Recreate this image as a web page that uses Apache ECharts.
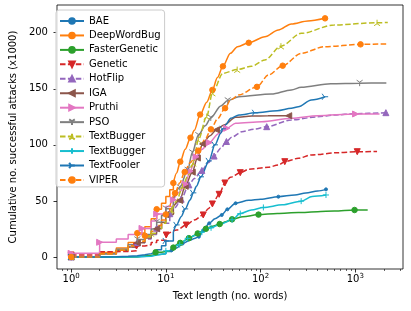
<!DOCTYPE html>
<html><head><meta charset="utf-8">
<script src="https://cdn.jsdelivr.net/npm/echarts@6/dist/echarts.min.js"></script>
<style>html,body{margin:0;padding:0;background:#fff}#c{width:411px;height:311px}</style>
</head><body><div id="c"></div>
<script>
// ---- data (x = text length in words, y = cumulative successful attacks in thousands) ----
const methods = ['BAE','DeepWordBug','FasterGenetic','Genetic','HotFlip','IGA','Pruthi','PSO','TextBugger','TextBugger','TextFooler','VIPER'];

const bae_x = [1,3,5,7,8,10,11.5,13,15,18,20,22.3,25,28.7,33,38.9,44.6,54.5,75,100,154,230,300,400,490];
const bae_y = [0,0.3,1,2,3,5,6,8,12,15,16.5,18.1,24,30,34,37.5,42.5,47.9,50.5,51.5,53.8,55.3,57,58.8,60.3];

const dwb_x = [1,2,3,4,5,6,7,8,9,10,11,12,13,14.2,16,18.2,20,23,27,31,35,40,48,57,75,111,154,211,316,479];
const dwb_y = [0,4,8,13,21.3,27,34,42.6,48,54,60,66,75,85,96,106.4,113,127,138,149,160,170,181.6,187.5,191,196.4,202.4,207.8,210.5,212.8];

const fg_x = [1,3,5,6,7.8,9,10,12,14.2,17.5,21.7,26.5,31,37,43,50,65,95,150,250,400,600,981,1350];
const fg_y = [0,0.3,1,2,4.2,5,6,8.4,12.6,16.8,21,25.2,27.5,29.4,31.5,33.6,35.8,37.8,38.8,39.6,40.4,41,41.9,42];

const gen_x = [1,2,3,4,4.9,6,7,8,10.1,13,16.4,20,24.8,28,31,36.5,42,48,61,75,120,154,180,250,343,650,1047,1695];
const gen_y = [1.8,4.7,5,5.5,9.8,11,13,15,19.6,24,28.5,33,37.5,43,47.3,55.9,66,71,75.2,78.2,80,82,85,88,91,93,93.9,94];

const hf_x = [1,2,3,4,5,6,7,8,9,11,12.5,14.5,17.5,20,24,28,32.3,38,43.6,50,63.5,85,116,211,400,595,1000,2100];
const hf_y = [0,3,6,9,12.9,16,20,25.7,30,38.6,44,51.5,64.3,70,77.2,84,90,97,103,107,111.7,114,116.2,122.2,125,126.6,127.8,128.7];

const iga_x = [1,2,3,4,5,6,7,8,9,10,12,14,16,19,21.5,24.4,29,34.2,41,54.5,81,120,198];
const iga_y = [0,3,6,9,12.6,17,21,25.2,31,37.8,45,50.4,63,75.6,88.2,100.8,108,113.4,117.7,124.6,125.7,125.9,126];

const pru_x = [1,2,3,4,5.6,7,8,10,12,14,16,18,20.8,24,28.7,36,44,54.5,103,211,400,1005,1800];
const pru_y = [3.3,13.1,16,20,25.5,32,38.3,45,51,58,65,76.5,89.3,96,102,110,114.8,119.2,120.6,123.7,126,127.5,127.6];

const pso_x = [1,2,3,4,5,6,7,8,9,10,12,14,17,19,22,26,29.8,38,45,59,130,211,268,550,1110,2125];
const pso_y = [0,3,7,11,15.5,20,25,31,37,43,52,62,77.5,93,108.5,117,124,134.6,139.5,143,145.3,149,151.3,154.5,155,155.2];

const tbo_x = [1,2,3,4,5,6,7,8,9,10,11.5,13,15,17,19.5,22,27,31,40,56.6,80,111,164,268,595,1695,2200];
const tbo_y = [0,3,6,10,14,18,20.9,25,30,36,41.8,50,62.7,72,83.6,104.4,125.3,146.2,163.8,167.1,170,175.7,188,199.4,206.9,208.9,209.1];

const tbc_x = [1,3,5,7,8,10,11.5,14,17,20,24,30,38,50,61,80,107,170,268,350,490];
const tbc_y = [0,0.2,0.7,1.8,2.8,5.5,7.5,11,16.6,19,22.1,26,29.4,33.2,38.7,42,44.2,46.5,49.8,54,55.3];

const tf_x = [1,2,3,4,5,6,7,8,9,10,12,13,14.5,16,18,19.5,21,23.5,28.5,33,38,40,43,48.3,59,87.7,150,211,250,343,480];
const tf_y = [0,0.3,0.7,1.2,2,3,4.5,6.5,10,14.3,22.6,28.6,36,42.9,50.8,57.2,63,71.5,85.7,100,110.3,114.3,118,123.7,126.6,128.6,130.5,132.6,134,140,142.9];

const vip_x = [1,2,3,4,5,6,7,8,9,10,11,12.5,14,15.8,18,22,26,29.9,35,42.2,48,59,91.5,121,171,268,472,1135,2117];
const vip_y = [0,3,6,10,14,19,23,28,33,38,45,56.9,66,75.8,84,94.8,105,113.8,123,132.7,140,144.5,151.7,162.3,170.6,181.6,187.5,189.6,190];

// marker interval (every tenth of the attacks, in thousands)
const markSteps = [6.03,21.28,4.19,9.39,12.87,12.6,12.75,15.5,20.89,5.53,14.29,18.96];

const xTicks = [0,1,2,3];
const yTicks = [0,50,100,150,200];

// ---- styles ----
const xs = [bae_x,dwb_x,fg_x,gen_x,hf_x,iga_x,pru_x,pso_x,tbo_x,tbc_x,tf_x,vip_x];
const ys = [bae_y,dwb_y,fg_y,gen_y,hf_y,iga_y,pru_y,pso_y,tbo_y,tbc_y,tf_y,vip_y];
const colors = ['#1f77b4','#ff7f0e','#2ca02c','#d62728','#9467bd','#8c564b','#e377c2','#7f7f7f','#bcbd22','#17becf','#1f77b4','#ff7f0e'];
const dashed = [false,false,false,true,true,false,false,false,true,false,false,true];
const TRI_DOWN = 'path://M0,0L0,10M0,0L-8.66,-5M0,0L8.66,-5';
const TRI_UP = 'path://M0,0L0,-10M0,0L-8.66,5M0,0L8.66,5';
const PLUS = 'path://M-5,0L5,0M0,-5L0,5';
const TRI_RIGHT = 'path://M0,0L10,0M0,0L-5,-8.66M0,0L-5,8.66';
const syms = [
  {s:'circle',size:3,rot:0},
  {s:'circle',size:5.5,rot:0},
  {s:'circle',size:5.5,rot:0},
  {s:'triangle',size:6,rot:180},
  {s:'triangle',size:6,rot:0},
  {s:'triangle',size:6,rot:90},
  {s:'triangle',size:6,rot:-90},
  {s:TRI_DOWN,size:6,rot:0},
  {s:TRI_UP,size:6,rot:0},
  {s:PLUS,size:6,rot:0},
  {s:TRI_RIGHT,size:6,rot:0},
  {s:'circle',size:5.5,rot:0}
];
const FONT = 'DejaVu Sans';
const SPLIT = 12;

function markerFlags(yv, step){
  const f = yv.map(()=>false);
  for(let k=0;k<=10;k++){
    const t=k*step; let best=-1, bd=Infinity;
    yv.forEach((y,i)=>{const d=Math.abs(y-t); if(d<bd){bd=d;best=i;}});
    if(best>=0) f[best]=true;
  }
  return f;
}

const seen = {};
const legendNames = [];
const series = [];
methods.forEach((m,i)=>{
  let name = m;
  while(seen[name]) name += ' ';
  seen[name]=true;
  legendNames.push(name);
  const xv = xs[i], yv = ys[i];
  const flags = markerFlags(yv, markSteps[i]);
  let idx = 0;
  xv.forEach((x,j)=>{ if(x<=SPLIT) idx=j; });
  const item = (j, allowMark) => {
    const d = {value:[Math.log10(xv[j]), yv[j]]};
    if(!(flags[j] && allowMark)) d.symbol = 'none';
    return d;
  };
  const high = [], low = [];
  for(let j=idx;j<xv.length;j++) high.push(item(j, j>idx));
  for(let j=0;j<=idx;j++) low.push(item(j, true));
  const base = {
    name: name, type:'line', xAxisIndex:0, yAxisIndex:0,
    symbol: syms[i].s, symbolSize: syms[i].size, symbolRotate: syms[i].rot,
    showSymbol: true,
    itemStyle: {color: colors[i], borderColor: colors[i], borderWidth: 1},
    lineStyle: {color: colors[i], width: 1.5, type: dashed[i] ? [5.5,2.4] : 'solid'},
    emphasis: {disabled: true},
    animation: false,
    z: 2
  };
  series.push(Object.assign({}, base, {data: high, smooth: 0.3, smoothMonotone: 'x'}));
  series.push(Object.assign({}, base, {data: low, step: 'end'}));
});

const minor = [];
for(let n=-1;n<=3;n++) for(let k=2;k<=9;k++){ const v=n+Math.log10(k); if(v>-0.149 && v<3.503) minor.push(v); }

const chart = echarts.init(document.getElementById('c'), null, {renderer:'canvas'});
chart.setOption({
  animation: false,
  backgroundColor: '#ffffff',
  textStyle: {fontFamily: FONT},
  grid: {left:53, top:5, right:8, bottom:42, show:true, borderColor:'#000', borderWidth:0.8, backgroundColor:'transparent'},
  legend: {
    data: legendNames, orient:'vertical', left:56, top:10,
    padding:[6,4,2,3], itemWidth:24, itemHeight:7, itemGap:4.45,
    backgroundColor:'rgba(255,255,255,0.8)', borderColor:'#cccccc', borderWidth:1, borderRadius:3,
    textStyle:{fontFamily:FONT, fontSize:10, color:'#000'}
  },
  xAxis: [{
    type:'value', min:-0.149, max:3.503, gridIndex:0, position:'bottom',
    name:'Text length (no. words)', nameLocation:'middle', nameGap:22,
    nameTextStyle:{fontFamily:FONT, fontSize:10, color:'#000'},
    axisLine:{show:false, onZero:false}, splitLine:{show:false},
    axisTick:{show:true, customValues:xTicks, length:3.5, lineStyle:{color:'#000', width:0.8}},
    axisLabel:{customValues:xTicks, margin:4, color:'#000', fontFamily:FONT,
      formatter:(v)=>'{b|10}{s|'+Math.round(v)+'}',
      rich:{b:{fontSize:10, fontFamily:FONT, color:'#000', lineHeight:11, padding:[4,0,0,0], verticalAlign:'bottom'},
            s:{fontSize:7, fontFamily:FONT, color:'#000', lineHeight:8, verticalAlign:'top'}}}
  },{
    type:'value', min:-0.149, max:3.503, gridIndex:0, position:'bottom',
    axisLine:{show:false, onZero:false}, splitLine:{show:false}, axisLabel:{show:false},
    axisTick:{show:true, customValues:minor, length:2, lineStyle:{color:'#000', width:0.6}}
  }],
  yAxis: {
    type:'value', min:-10.7, max:224.7, position:'left',
    name:'Cumulative no. successful attacks (x1000)', nameLocation:'middle', nameGap:32,
    nameTextStyle:{fontFamily:FONT, fontSize:10, color:'#000'},
    axisLine:{show:false, onZero:false}, splitLine:{show:false},
    axisTick:{show:true, customValues:yTicks, length:3.5, lineStyle:{color:'#000', width:0.8}},
    axisLabel:{customValues:yTicks, margin:9, color:'#000', fontFamily:FONT, fontSize:10}
  },
  series: series
});
</script></body></html>
